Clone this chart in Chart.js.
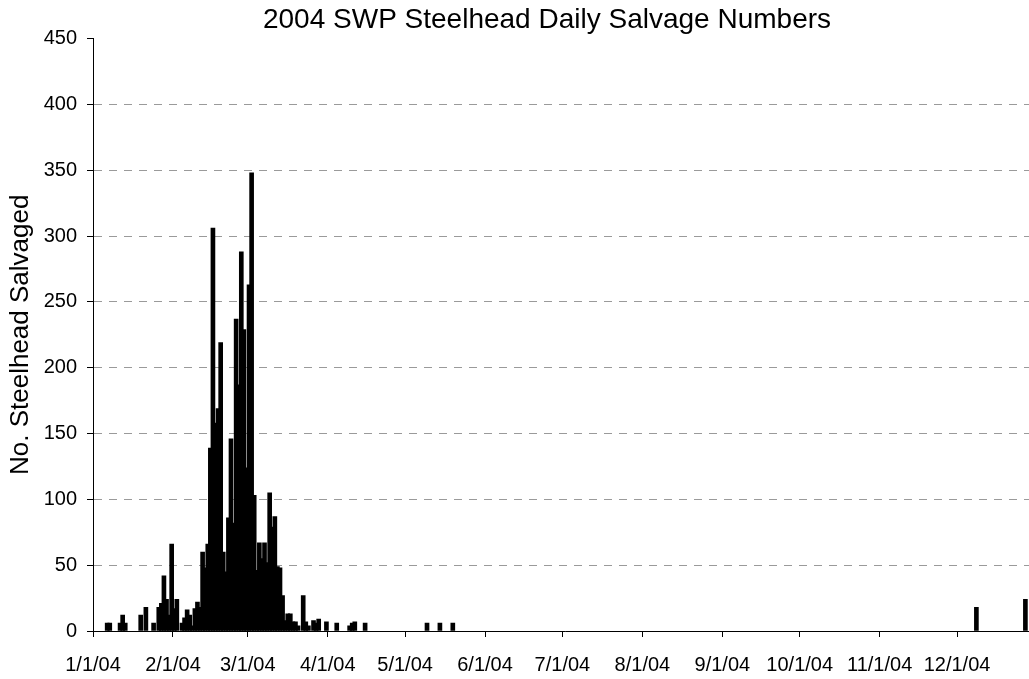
<!DOCTYPE html>
<html>
<head>
<meta charset="utf-8">
<title>2004 SWP Steelhead Daily Salvage Numbers</title>
<script src="https://cdn.jsdelivr.net/npm/chart.js@4.4.1/dist/chart.umd.min.js"></script>
<style>
  html, body { margin: 0; padding: 0; background: #fff; overflow: hidden; }
</style>
</head>
<body>
<canvas id="myChart" width="1094" height="679"></canvas>
<script>
// days with salvage (days with zero are left out)
const salvageDates = [
    "1/6/04", "1/7/04", "1/11/04", "1/12/04", "1/13/04", "1/19/04", "1/21/04", "1/24/04",
    "1/26/04", "1/27/04", "1/28/04", "1/29/04", "1/30/04", "1/31/04",
    "2/1/04", "2/2/04", "2/4/04", "2/5/04", "2/6/04", "2/7/04", "2/8/04", "2/9/04", "2/10/04",
    "2/11/04", "2/12/04", "2/13/04", "2/14/04", "2/15/04", "2/16/04", "2/17/04", "2/18/04",
    "2/19/04", "2/20/04", "2/21/04", "2/22/04", "2/23/04", "2/24/04", "2/25/04", "2/26/04",
    "2/27/04", "2/28/04", "2/29/04",
    "3/1/04", "3/2/04", "3/3/04", "3/4/04", "3/5/04", "3/6/04", "3/7/04", "3/8/04", "3/9/04",
    "3/10/04", "3/11/04", "3/12/04", "3/13/04", "3/14/04", "3/15/04", "3/16/04", "3/17/04",
    "3/18/04", "3/19/04", "3/20/04", "3/22/04", "3/23/04", "3/24/04", "3/26/04", "3/27/04",
    "3/28/04", "3/31/04",
    "4/4/04", "4/9/04", "4/10/04", "4/11/04", "4/15/04",
    "5/9/04", "5/14/04", "5/19/04",
    "12/8/04", "12/27/04"
];
const salvageCounts = [
    6, 6, 6, 12, 6, 12, 18, 6,
    18, 21, 42, 24, 12, 66,
    17, 24, 6, 10, 16, 12, 4, 17, 22,
    18, 60, 48, 66, 139, 306, 158, 169,
    219, 60, 45, 86, 146, 82, 237, 187,
    288, 229, 124,
    263, 348, 103, 46, 67, 55, 67, 52, 105,
    79, 87, 49, 48, 27, 8, 13, 13,
    7, 7, 4, 27, 7, 4, 8, 6,
    9, 7,
    6, 4, 6, 7, 6,
    6, 6, 6,
    18, 24
];
const monthLabels = ["1/1/04", "2/1/04", "3/1/04", "4/1/04", "5/1/04", "6/1/04",
    "7/1/04", "8/1/04", "9/1/04", "10/1/04", "11/1/04", "12/1/04"];
const yMax = 450;
const yStep = 50;

const fontFam = "'Liberation Sans', Arial, sans-serif";

function dayOfYear(s){
    let p = s.split("/");
    return (Date.UTC(2000 + Number(p[2]), Number(p[0]) - 1, Number(p[1])) - Date.UTC(2004, 0, 1)) / 86400000;
}

const points = salvageDates.map((d, i) => ({ x: dayOfYear(d) + 0.5, y: salvageCounts[i] }));
const monthDays = monthLabels.map(dayOfYear);

const ctx = document.getElementById('myChart');

new Chart(ctx, {
    type: 'bar',
    data: {
        datasets: [{
            label: 'Steelhead salvaged',
            data: points,
            backgroundColor: '#000000',
            borderWidth: 0,
            barThickness: 4
        }]
    },
    options: {
        responsive: false,
        animation: false,
        devicePixelRatio: 1,
        layout: { padding: 0 },
        plugins: {
            legend: { display: false },
            tooltip: { enabled: false },
            title: {
                display: true,
                text: '2004 SWP Steelhead Daily Salvage Numbers',
                color: '#000',
                font: { family: fontFam, size: 28, weight: 'normal' },
                padding: { top: 3, bottom: 2 }
            }
        },
        scales: {
            x: {
                type: 'linear',
                min: 0,
                max: 366,
                offset: false,
                afterBuildTicks: s => { s.ticks = monthDays.map(v => ({ value: v })); },
                // room on the right so plot ends past the window edge, title stays centred
                afterFit: s => { s.height = 48; s.paddingRight = 57; },
                ticks: {
                    callback: (v, i) => monthLabels[i],
                    color: '#000',
                    font: { family: fontFam, size: 20 },
                    padding: 16,
                    maxRotation: 0,
                    autoSkip: false
                },
                grid: { offset: false, drawOnChartArea: false, tickLength: 6, tickColor: '#000', color: '#000' },
                border: { color: '#000', width: 1 }
            },
            y: {
                min: 0,
                max: yMax,
                afterFit: s => { s.width = 93; },
                ticks: {
                    stepSize: yStep,
                    color: '#000',
                    font: { family: fontFam, size: 20 },
                    padding: 10
                },
                grid: {
                    color: c => (c.tick && c.tick.value === yMax) ? 'rgba(0,0,0,0)' : '#9a9a9a',
                    tickColor: '#000',
                    tickLength: 6,
                    tickBorderDash: []
                },
                border: { color: '#000', width: 1, dash: [8, 7] },
                title: {
                    display: true,
                    text: 'No. Steelhead Salvaged',
                    color: '#000',
                    font: { family: fontFam, size: 26 },
                    padding: { top: 5, bottom: 0 }
                }
            }
        }
    }
});
</script>
</body>
</html>
